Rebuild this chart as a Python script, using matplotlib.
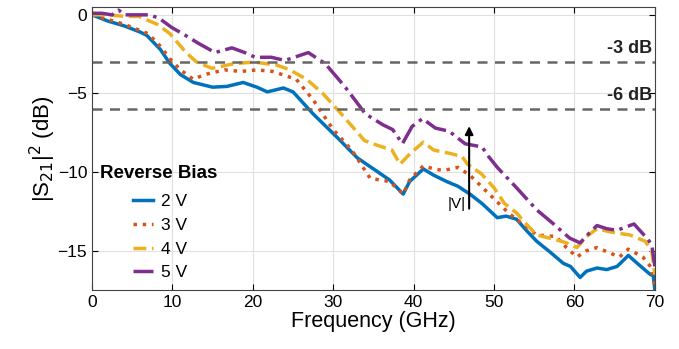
import matplotlib.pyplot as plt

plt.rcParams['font.family'] = ['Liberation Sans', 'DejaVu Sans']

# frequency (GHz) / |S21|^2 (dB)
f_2v = [0, 2, 4, 6, 6.8, 8.5, 9.7, 11, 12.6, 15, 16.8, 18.8, 20.5, 21.8, 23.8, 25, 27.5, 30.5,
        33, 35, 37, 38.7, 39.5, 41.2, 42.5, 44.1, 45.5, 47, 48.5, 50.4, 51.5, 52.8, 54, 55.3,
        57, 58.6, 59.5, 60.7, 61.5, 62.8, 64, 65.3, 66.7, 67.8, 69.4, 69.8, 70]
s_2v = [0, -0.4, -0.7, -1.1, -1.3, -2.2, -3.1, -3.8, -4.3, -4.6, -4.55, -4.3, -4.6, -4.9, -4.65,
        -4.9, -6.3, -7.8, -9.1, -9.8, -10.5, -11.4, -10.6, -9.8, -10.2, -10.6, -10.9, -11.4,
        -12.0, -12.9, -12.8, -13.0, -13.7, -14.4, -15.1, -15.8, -16.0, -16.7, -16.3, -16.1,
        -16.2, -16.0, -15.3, -15.8, -16.5, -16.6, -17.5]

f_3v = [0, 2, 4, 6, 7, 8.5, 9.7, 11, 12.6, 14, 16.5, 18.5, 20.5, 22.5, 25.4, 27.5, 30, 32.3,
        34.6, 37, 38.7, 39.5, 41.2, 42.5, 43.7, 45.5, 47, 48.6, 50.2, 51.8, 53.5, 55.3, 57.7,
        59, 60.3, 61.5, 62.8, 64.2, 65.6, 66.7, 68.5, 69.6, 70]
s_3v = [0, -0.3, -0.6, -1.0, -1.2, -2.0, -2.8, -3.5, -4.1, -3.8, -3.5, -3.6, -3.5, -3.6, -4.1,
        -5.4, -7.3, -8.6, -10.4, -10.6, -11.4, -10.5, -9.6, -9.8, -9.9, -9.7, -10.2, -11.0,
        -11.8, -12.6, -13.3, -14.0, -14.1, -14.8, -15.4, -15.0, -14.8, -15.1, -15.4, -14.9,
        -15.4, -16.1, -17.3]

f_4v = [0, 2, 4.1, 5.8, 8.1, 9.7, 11.7, 13, 14.9, 17.7, 20.2, 23, 24.6, 26.7, 28.7, 31, 33.9,
        35.5, 37.3, 38.3, 39.6, 41.2, 42.5, 44.4, 46, 46.7, 48.4, 50, 51.3, 52.8, 54, 55.3,
        57.7, 59, 60.3, 61.5, 62.8, 64.4, 66.9, 68.8, 69.6, 70]
s_4v = [0, 0, -0.1, -0.1, -0.6, -1.2, -2.4, -3.0, -3.4, -3.1, -3.0, -3.2, -3.5, -4.1, -5.0,
        -6.3, -8.0, -8.3, -8.6, -9.5, -8.8, -8.1, -8.6, -8.8, -9.0, -9.5, -10.1, -11.0, -12.0,
        -12.6, -13.3, -14.0, -14.3, -14.5, -14.8, -14.1, -13.6, -13.8, -14.0, -14.4, -15.0,
        -16.5]

f_5v = [0, 1.2, 2.5, 3.3, 4.1, 5.4, 7.1, 8.3, 9.9, 11.6, 13.2, 15.3, 17.4, 19, 20.3, 22.3,
        24, 26.9, 29, 31.5, 34, 36.2, 37.4, 38.6, 39.8, 41.1, 42.7, 44.4, 46.4, 48.5, 49.3,
        50.4, 52.8, 55.3, 57.4, 59.4, 60.7, 61.8, 62.8, 64, 65.3, 67.4, 69, 69.6, 70]
s_5v = [0.1, 0.1, 0, 0.3, 0, 0, 0, -0.2, -0.8, -1.3, -1.8, -2.4, -2.1, -2.4, -2.7, -2.7, -2.9,
        -2.4, -3.1, -4.6, -6.3, -7.0, -7.3, -8.2, -7.1, -6.6, -7.2, -7.4, -8.2, -8.4, -9.0,
        -9.7, -11.0, -12.4, -13.3, -14.2, -14.5, -13.9, -13.4, -13.6, -13.7, -13.3, -14.2,
        -14.6, -16.0]

labels = ['2 V', '3 V', '4 V', '5 V']
colors = ['#0072BD', '#D95319', '#EDB120', '#7E2F8E']
styles = ['-', ':', '--', '-.']

fig = plt.figure(figsize=(6.79, 3.49), dpi=100)
ax = fig.add_axes([0.1355, 0.169, 0.829, 0.811])

for f, s, lab, c, ls in zip([f_2v, f_3v, f_4v, f_5v], [s_2v, s_3v, s_4v, s_5v],
                            labels, colors, styles):
    ax.plot(f, s, color=c, ls=ls, lw=2.5, label=lab)

# 3 dB / 6 dB reference lines
for lvl in [-3, -6]:
    ax.axhline(lvl, color='#666666', ls=(0, (4, 3)), lw=1.8)
    ax.text(69.7, lvl + 0.35, '%d dB' % lvl, ha='right', va='bottom',
            fontsize=13, fontweight='bold', color='#222222')

ax.annotate('', xy=(46.9, -6.9), xytext=(46.9, -12.5),
            arrowprops=dict(arrowstyle='-|>', color='black', lw=1.5, mutation_scale=12))
ax.text(46.5, -12.0, '|V|', ha='right', va='center', fontsize=11)

ax.set_xlim(0, 70)
ax.set_ylim(-17.5, 0.5)
ax.set_xticks(range(0, 71, 10))
ax.set_yticks([0, -5, -10, -15])
ax.grid(True, color='#e0e0e0', lw=0.8)
ax.tick_params(direction='in', top=True, right=True, labelsize=12.5, length=4)
for sp in ax.spines.values():
    sp.set_color('#444444')
ax.set_xlabel('Frequency (GHz)', fontsize=15.5, labelpad=1)
ax.set_ylabel('|S$_{21}$|$^2$ (dB)', fontsize=16, labelpad=0)

ax.text(0.014, 0.41, 'Reverse Bias', transform=ax.transAxes, fontsize=13.5,
        fontweight='bold', va='center', ha='left')
ax.legend(loc='upper left', bbox_to_anchor=(0.073, 0.34), frameon=False,
          fontsize=12.5, handlelength=1.15, handletextpad=0.45,
          borderaxespad=0, borderpad=0, labelspacing=0.5)

fig.savefig('out.png', dpi=100)
